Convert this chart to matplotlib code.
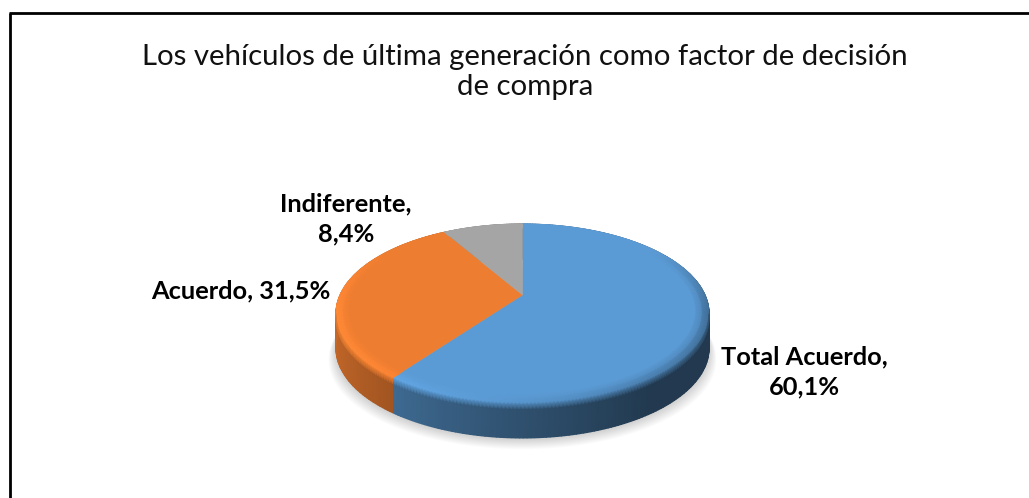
import numpy as np
import matplotlib
matplotlib.use("Agg")
import matplotlib.pyplot as plt
from matplotlib.colors import to_rgb

categories = ["Total Acuerdo", "Acuerdo", "Indiferente"]
values = [60.1, 31.5, 8.4]
value_labels = ["60,1%", "31,5%", "8,4%"]
colors = ["#5B9BD5", "#ED7D31", "#A5A5A5"]
title = "Los vehículos de última generación como factor de decisión\nde compra"

plt.rcParams["font.family"] = ["Lato", "DejaVu Sans"]
W, H = 1029, 498
fig = plt.figure(figsize=(W / 100, H / 100), dpi=100)
ax = fig.add_axes([0, 0, 1, 1])
ax.set_xlim(0, W)
ax.set_ylim(H, 0)
ax.axis("off")

# page frame: left and top only, running off the picture
ax.plot([9.5, 9.5], [H, 12.5], color="black", lw=2, solid_capstyle="butt", zorder=1)
ax.plot([8.5, W], [12.5, 12.5], color="black", lw=2, solid_capstyle="butt", zorder=1)

# perspective pie projection
CX, APEX_Y, SX, SY, K, DEPTH = 522.5, 295.0, 182.5, 85.7, 0.2067, 35.0
BEVEL = 0.93


def project(theta, r=1.0):
    x = r * np.sin(theta)
    y = r * np.cos(theta)
    w = 1 + K * y
    return CX + SX * x / w, APEX_Y - SY * y / w


def mix(a, b, t):
    return np.asarray(a) * (1 - t) + np.asarray(b) * t


def rim_colour(theta, rgb):
    top = np.array(rgb)
    lx = (np.sin(theta) + 1) / 2
    strength = np.clip((0.6 - np.cos(theta)) / 0.8, 0, 1)
    return mix(top, mix(top * 1.12, top * 0.66, lx ** 1.5), strength)


def wall_colour(theta, rgb):
    top = np.array(rgb)
    lx = (np.sin(theta) + 1) / 2
    return mix(top * 0.84, top * 0.37, np.clip(lx * 1.25, 0, 1) ** 0.8)


def mesh(rows):
    """rows: list of (xx, yy, rgb_rows) along the angle."""
    MX = np.array([r[0] for r in rows])
    MY = np.array([r[1] for r in rows])
    RGB = np.array([r[2] for r in rows])
    return MX, MY, np.clip(RGB, 0, 1)


# soft ground shadow
sh_t = np.linspace(0, 2 * np.pi, 200)
for grow in np.linspace(12, 0, 12):
    sx_, sy_ = project(sh_t)
    ax.fill(CX + (sx_ - CX) * (1 + grow / 300), sy_ + DEPTH + 1 + grow * 0.85,
            color="black", alpha=0.015, lw=0, zorder=2)

fractions = np.array(values) / sum(values)
edges = np.concatenate([[0], np.cumsum(fractions)]) * 2 * np.pi

for c_hex, a0, a1 in zip(colors, edges[:-1], edges[1:]):
    rgb = to_rgb(c_hex)
    th = np.linspace(a0, a1, max(int((a1 - a0) * 60), 4))
    rim = np.array([rim_colour(a, rgb) for a in th])
    wall = np.array([wall_colour(a, rgb) for a in th])
    rx, ry = project(th)

    # wall
    rows = [(rx, ry + DEPTH * d, wall) for d in (0.0, 1.0)]
    MX, MY, RGB = mesh(rows)
    ax.pcolormesh(MX, MY, RGB, shading="gouraud", zorder=3)

    # top face covers the hidden back of the wall
    ax.fill(np.r_[CX, rx], np.r_[APEX_Y, ry], color=c_hex, lw=0.3, zorder=4)

    # bevel: face -> rim, then rim -> wall for the visible front part only
    inner = project(th, BEVEL)
    mid = project(th, (BEVEL + 1) / 2)
    top_col = np.tile(np.array(rgb), (len(th), 1))
    rows = [(inner[0], inner[1], top_col),
            (mid[0], mid[1], mix(top_col, rim, 0.45)),
            (rx, ry, rim)]
    MX, MY, RGB = mesh(rows)
    ax.pcolormesh(MX, MY, RGB, shading="gouraud", zorder=5)
    front = np.cos(th) < -0.2
    if front.sum() > 1:
        rows = [(rx[front], ry[front], rim[front]),
                (rx[front], ry[front] + 6, wall[front])]
        MX, MY, RGB = mesh(rows)
        ax.pcolormesh(MX, MY, RGB, shading="gouraud", zorder=5)

ax.text(525, 72, title, ha="center", va="center", fontsize=21.2, color="#111111",
        linespacing=1.2, zorder=6)
lab = dict(fontsize=18.3, fontweight="bold", color="black", zorder=6, linespacing=1.36)
ax.text(804, 372, f"{categories[0]},\n{value_labels[0]}", ha="center", va="center", **lab)
ax.text(241, 291, f"{categories[1]}, {value_labels[1]}", ha="center", va="center", **lab)
ax.text(346, 219, f"{categories[2]},\n{value_labels[2]}", ha="center", va="center", **lab)

fig.savefig("out.png", dpi=100, facecolor="white")
